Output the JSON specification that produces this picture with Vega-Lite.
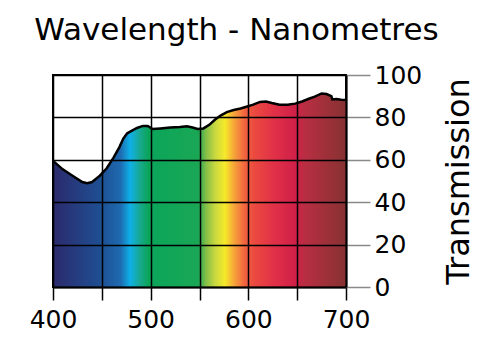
{
  "$schema": "https://vega.github.io/schema/vega-lite/v6.json",
  "autosize": "none",
  "width": 293,
  "height": 212,
  "padding": {"left": 53, "top": 75, "right": 147, "bottom": 66},
  "background": "white",
  "title": {
    "text": "Wavelength - Nanometres",
    "font": "DejaVu Sans",
    "fontSize": 31,
    "fontWeight": "normal",
    "color": "black",
    "anchor": "middle",
    "frame": "group",
    "dx": 37,
    "offset": 16
  },
  "config": {
    "view": {"stroke": "black", "strokeWidth": 2}
  },
  "data": {
    "values": [
      {"nm": 400, "t": 59.5}, {"nm": 405, "t": 57.5}, {"nm": 410, "t": 55.5},
      {"nm": 420, "t": 52.5}, {"nm": 430, "t": 49.5}, {"nm": 435, "t": 49},
      {"nm": 440, "t": 49.5}, {"nm": 448, "t": 52.5}, {"nm": 455, "t": 56},
      {"nm": 462, "t": 61}, {"nm": 468, "t": 66}, {"nm": 472, "t": 70},
      {"nm": 476, "t": 72.5}, {"nm": 480, "t": 73.5}, {"nm": 486, "t": 75},
      {"nm": 492, "t": 76}, {"nm": 497, "t": 76}, {"nm": 502, "t": 74.5},
      {"nm": 510, "t": 74.8}, {"nm": 520, "t": 75.2}, {"nm": 530, "t": 75.5},
      {"nm": 537, "t": 75.8}, {"nm": 543, "t": 75.2}, {"nm": 548, "t": 74.5},
      {"nm": 554, "t": 74.8}, {"nm": 560, "t": 76.5}, {"nm": 566, "t": 79},
      {"nm": 572, "t": 81}, {"nm": 578, "t": 82.5}, {"nm": 585, "t": 83.5},
      {"nm": 592, "t": 84.2}, {"nm": 598, "t": 85}, {"nm": 605, "t": 86},
      {"nm": 612, "t": 87.3}, {"nm": 618, "t": 87.5}, {"nm": 624, "t": 86.8},
      {"nm": 632, "t": 86}, {"nm": 640, "t": 86}, {"nm": 648, "t": 86.5},
      {"nm": 655, "t": 87.5}, {"nm": 662, "t": 88.8}, {"nm": 668, "t": 89.8},
      {"nm": 675, "t": 91.3}, {"nm": 680, "t": 91}, {"nm": 685, "t": 90},
      {"nm": 686, "t": 88.5}, {"nm": 690, "t": 88.7}, {"nm": 695, "t": 88.3},
      {"nm": 700, "t": 88.2}
    ]
  },
  "encoding": {
    "x": {
      "field": "nm", "type": "quantitative",
      "scale": {"domain": [400, 700], "nice": false, "zero": false},
      "axis": {
        "values": [400, 450, 500, 550, 600, 650, 700],
        "labelExpr": "datum.value % 100 == 0 ? datum.label : ''",
        "title": null,
        "grid": true, "gridColor": "black", "gridWidth": 1.5, "gridOpacity": 1,
        "domainColor": "black", "domainWidth": 2,
        "tickColor": "black", "tickWidth": 1.5, "tickSize": 13,
        "labelFont": "DejaVu Sans", "labelFontSize": 25, "labelColor": "black",
        "labelPadding": 7, "labelFlush": false, "labelOverlap": false,
        "zindex": 1
      }
    },
    "y": {
      "field": "t", "type": "quantitative",
      "scale": {"domain": [0, 100], "nice": false},
      "axis": {
        "orient": "right",
        "values": [0, 20, 40, 60, 80, 100],
        "title": "Transmission",
        "titleFont": "DejaVu Sans", "titleFontSize": 32, "titleFontWeight": "normal",
        "titleColor": "black", "titleAngle": 270, "titleBaseline": "alphabetic",
        "titleAlign": "center", "titleX": 122, "titleY": 106,
        "grid": true, "gridColor": "black", "gridWidth": 1.5, "gridOpacity": 1,
        "domainColor": "black", "domainWidth": 2,
        "tickColor": "#8a8a8a", "tickWidth": 1.5, "tickSize": 24,
        "labelFont": "DejaVu Sans", "labelFontSize": 25, "labelColor": "black",
        "labelPadding": 4, "labelFlush": false, "labelOverlap": false,
        "zindex": 1
      }
    }
  },
  "layer": [
    {
      "mark": {
        "type": "area",
        "color": {
          "gradient": "linear", "x1": 0, "x2": 1, "y1": 0, "y2": 0,
          "stops": [
            {"offset": 0, "color": "#2b2a6c"},
            {"offset": 0.16, "color": "#1f4e92"},
            {"offset": 0.23, "color": "#1e6ab0"},
            {"offset": 0.263, "color": "#0fb0e8"},
            {"offset": 0.297, "color": "#18a890"},
            {"offset": 0.325, "color": "#0aa55a"},
            {"offset": 0.497, "color": "#1aa755"},
            {"offset": 0.52, "color": "#7ebd48"},
            {"offset": 0.553, "color": "#c8d840"},
            {"offset": 0.587, "color": "#f6ea2a"},
            {"offset": 0.62, "color": "#f6a03a"},
            {"offset": 0.657, "color": "#f06040"},
            {"offset": 0.69, "color": "#eb4840"},
            {"offset": 0.757, "color": "#e03048"},
            {"offset": 0.827, "color": "#d02048"},
            {"offset": 0.86, "color": "#b82e42"},
            {"offset": 1, "color": "#863232"}
          ]
        }
      }
    },
    {
      "mark": {"type": "line", "color": "black", "strokeWidth": 2.5}
    }
  ]
}
